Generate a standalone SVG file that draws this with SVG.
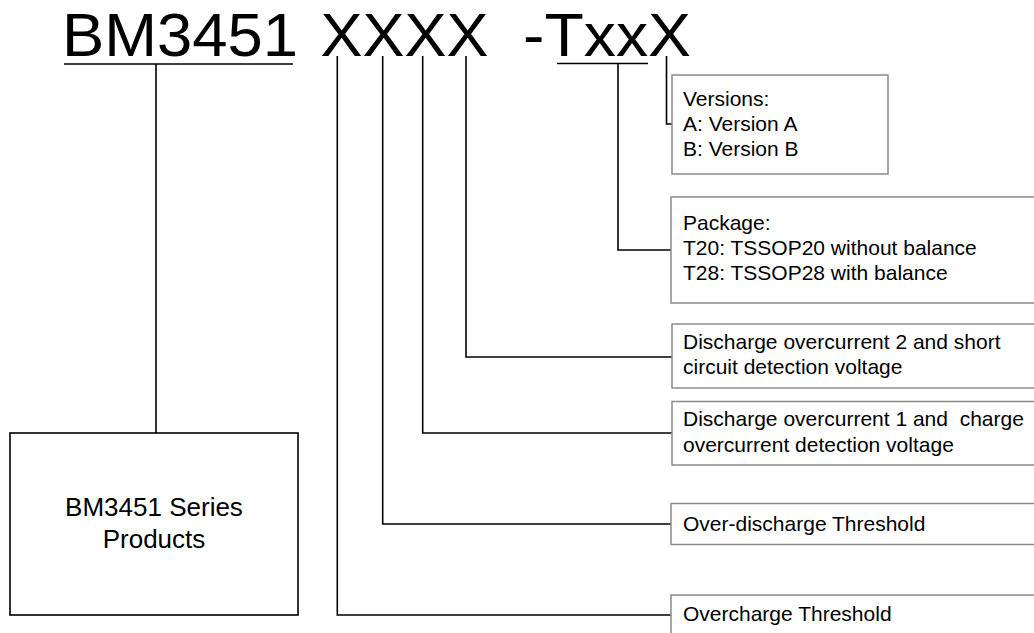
<svg xmlns="http://www.w3.org/2000/svg" width="1034" height="633" viewBox="0 0 1034 633">
<style>
text{font-family:"Liberation Sans",Arial,sans-serif;fill:#000}
.title{font-size:61px}
.lbl{font-size:21px}
.big{font-size:26px}
.wire{fill:none;stroke:#000;stroke-width:1.6}
.box{fill:#fff;stroke:#8a8a8a;stroke-width:1.5}
.main{fill:#fff;stroke:#000;stroke-width:1.6}
</style>
<rect width="1034" height="633" fill="#fff"/>
<g id="title">
<text class="title" x="62" y="55.5" textLength="236" lengthAdjust="spacingAndGlyphs">BM3451</text>
<text class="title" x="320.5" y="55.5" textLength="168" lengthAdjust="spacingAndGlyphs">XXXX</text>
<text class="title" x="523" y="55.5" textLength="168" lengthAdjust="spacingAndGlyphs">-TxxX</text>
<line class="wire" x1="64" y1="64" x2="293" y2="64"/>
<line class="wire" x1="557" y1="63.5" x2="648" y2="63.5"/>
</g>
<g id="connectors">
<polyline class="wire" points="156,64 156,433"/>
<polyline class="wire" points="666.5,56 666.5,124 672,124"/>
<polyline class="wire" points="618,63.5 618,250 671,250"/>
<polyline class="wire" points="466,56 466,357 672,357"/>
<polyline class="wire" points="422.7,56 422.7,433 672,433"/>
<polyline class="wire" points="382.7,56 382.7,524 671,524"/>
<polyline class="wire" points="337.3,56 337.3,615 671,615"/>
</g>
<g id="node-products">
<rect class="main" x="10" y="433" width="288" height="182"/>
<text class="big" x="154" y="516" text-anchor="middle">BM3451 Series</text>
<text class="big" x="154" y="548" text-anchor="middle">Products</text>
</g>
<g id="node-versions">
<rect class="box" x="672" y="75" width="216" height="99"/>
<text class="lbl" x="683" y="106">Versions:</text>
<text class="lbl" x="683" y="131">A: Version A</text>
<text class="lbl" x="683" y="156">B: Version B</text>
</g>
<g id="node-package">
<rect class="box" x="671" y="197" width="380" height="106"/>
<text class="lbl" x="683" y="230">Package:</text>
<text class="lbl" x="683" y="255">T20: TSSOP20 without balance</text>
<text class="lbl" x="683" y="279.5">T28: TSSOP28 with balance</text>
</g>
<g id="node-discharge2">
<rect class="box" x="672" y="324" width="380" height="64"/>
<text class="lbl" x="683" y="349">Discharge overcurrent 2 and short</text>
<text class="lbl" x="683" y="374">circuit detection voltage</text>
</g>
<g id="node-discharge1">
<rect class="box" x="672" y="401.5" width="380" height="63.5"/>
<text class="lbl" x="683" y="426" xml:space="preserve">Discharge overcurrent 1 and  charge</text>
<text class="lbl" x="683" y="451.5">overcurrent detection voltage</text>
</g>
<g id="node-overdischarge">
<rect class="box" x="671" y="503.5" width="380" height="41"/>
<text class="lbl" x="683" y="530.5">Over-discharge Threshold</text>
</g>
<g id="node-overcharge">
<rect class="box" x="671" y="595" width="380" height="60"/>
<text class="lbl" x="683" y="621">Overcharge Threshold</text>
</g>
</svg>
